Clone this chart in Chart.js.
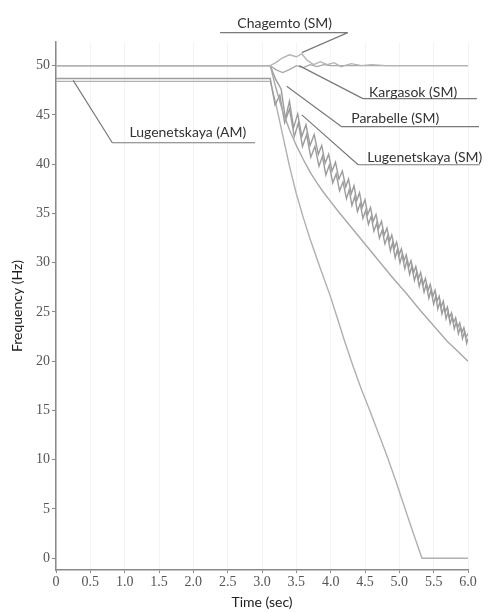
<!DOCTYPE html>
<html>
<head>
<meta charset="utf-8">
<script src="https://cdn.jsdelivr.net/npm/chart.js@4"></script>
<style>
  html, body { margin: 0; padding: 0; background: #fff; }
  #wrap { width: 493px; height: 613px; position: relative; }
</style>
</head>
<body>
<div id="wrap"><canvas id="freqChart"></canvas></div>
<script>
// tick labels
const xTickLabels = ['0', '0.5', '1.0', '1.5', '2.0', '2.5', '3.0', '3.5', '4.0', '4.5', '5.0', '5.5', '6.0'];
const yTickValues = [0, 5, 10, 15, 20, 25, 30, 35, 40, 45, 50];

// Chagemto (SM) - stays near 50 Hz, small bump after the fault
const chagemtoTime = [0, 3.12, 3.2, 3.3, 3.4, 3.5, 3.58, 3.65, 3.75, 3.85, 3.95, 4.05, 4.15, 4.3, 4.45, 4.6, 4.8, 5.0, 6.0];
const chagemtoFreq = [50, 50, 50.3, 50.8, 51.1, 50.9, 51.2, 50.6, 50.1, 50.4, 50.1, 50.3, 49.9, 50.2, 50.0, 50.1, 50.0, 50.0, 50.0];

// Kargasok (SM) - small dip then back to 50
const kargasokTime = [0, 3.12, 3.2, 3.3, 3.4, 3.5, 3.6, 3.7, 3.8, 3.9, 4.0, 6.0];
const kargasokFreq = [50, 50, 49.6, 49.3, 49.6, 50.0, 49.8, 50.1, 49.9, 50.1, 50.0, 50.0];

// Parabelle (SM) - swinging decay
const parabelleTime = [0, 3.12, 3.2, 3.28, 3.34, 3.4, 3.46, 3.52, 3.58, 3.64, 3.7, 3.76, 3.82, 3.87, 3.92, 3.97,
  4.02, 4.07, 4.12, 4.17, 4.22, 4.26, 4.3, 4.34, 4.38, 4.42, 4.46, 4.5, 4.54, 4.58, 4.62, 4.66, 4.7, 4.74, 4.78,
  4.82, 4.86, 4.89, 4.93, 4.96, 5.0, 5.03, 5.07, 5.1, 5.14, 5.17, 5.21, 5.24, 5.28, 5.31, 5.35, 5.38, 5.42, 5.45,
  5.49, 5.52, 5.55, 5.58, 5.61, 5.64, 5.67, 5.7, 5.73, 5.76, 5.79, 5.82, 5.85, 5.88, 5.91, 5.94, 5.97, 6.0];
const parabelleFreq = [50, 50, 48.6, 47.6, 44.6, 46.4, 43.7, 45.1, 42.8, 44.0, 41.9, 43.0, 41.0, 41.9, 40.1, 41.0,
  39.3, 40.2, 38.5, 39.3, 37.7, 38.5, 37.0, 37.8, 36.3, 37.1, 35.6, 36.4, 34.9, 35.6, 34.2, 34.9, 33.5, 34.2, 32.8,
  33.5, 32.2, 32.8, 31.5, 32.1, 30.8, 31.4, 30.2, 30.8, 29.6, 30.2, 29.0, 29.6, 28.4, 29.0, 27.8, 28.4, 27.2, 27.8,
  26.6, 27.2, 26.1, 26.6, 25.5, 26.1, 25.0, 25.5, 24.4, 24.9, 23.9, 24.4, 23.4, 23.9, 22.9, 23.4, 22.4, 22.8];

// Lugenetskaya (SM) - starts from the 48.7 Hz bus
const lugSmTime = [0, 3.12, 3.19, 3.26, 3.33, 3.4, 3.47, 3.53, 3.59, 3.65, 3.71, 3.77, 3.83, 3.88, 3.93, 3.98,
  4.03, 4.08, 4.13, 4.18, 4.23, 4.27, 4.31, 4.35, 4.39, 4.43, 4.47, 4.51, 4.55, 4.59, 4.63, 4.67, 4.71, 4.75, 4.79,
  4.83, 4.87, 4.9, 4.94, 4.97, 5.01, 5.04, 5.08, 5.11, 5.15, 5.18, 5.22, 5.25, 5.29, 5.32, 5.36, 5.39, 5.43, 5.46,
  5.5, 5.53, 5.56, 5.59, 5.62, 5.65, 5.68, 5.71, 5.74, 5.77, 5.8, 5.83, 5.86, 5.89, 5.92, 5.95, 5.98, 6.0];
const lugSmFreq = [48.7, 48.7, 46.0, 47.0, 44.2, 45.6, 42.8, 44.2, 41.8, 43.0, 40.7, 41.8, 39.8, 40.8, 38.9, 39.9,
  38.1, 39.0, 37.3, 38.2, 36.5, 37.4, 35.8, 36.7, 35.2, 36.0, 34.5, 35.3, 33.9, 34.7, 33.2, 34.0, 32.5, 33.3, 31.9,
  32.7, 31.2, 32.0, 30.5, 31.3, 30.0, 30.8, 29.4, 30.2, 28.8, 29.6, 28.2, 29.0, 27.6, 28.4, 27.0, 27.8, 26.4, 27.2,
  25.8, 26.6, 25.3, 26.0, 24.8, 25.5, 24.3, 25.0, 23.8, 24.5, 23.3, 24.0, 22.8, 23.5, 22.3, 23.0, 21.8, 22.3];

// unlabelled smooth curve ending near 20 Hz
const smoothTime = [0, 3.12, 3.2, 3.3, 3.4, 3.5, 3.6, 3.7, 3.8, 3.9, 4.0, 4.1, 4.3, 4.5, 4.7, 4.9, 5.1, 5.3, 5.5, 5.7, 5.85, 6.0];
const smoothFreq = [50, 50, 47.8, 45.4, 43.5, 41.9, 40.5, 39.2, 38.1, 37.1, 36.2, 35.3, 33.6, 31.9, 30.2, 28.5, 26.9, 25.2, 23.6, 22.0, 21.0, 20.0];

// Lugenetskaya (AM) - asynchronous motor runs down to standstill
const lugAmTime = [0, 3.12, 3.2, 3.3, 3.4, 3.5, 3.6, 3.7, 3.85, 4.0, 4.1, 4.2, 4.33, 4.45, 4.57, 4.7, 4.83, 4.95, 5.07, 5.2, 5.33, 6.0];
const lugAmFreq = [48.4, 48.4, 46.2, 43.0, 39.8, 37.0, 34.6, 32.4, 29.4, 26.5, 24.3, 22.1, 19.4, 17.1, 15.0, 12.6, 10.2, 7.8, 5.3, 2.6, 0, 0];

// callout labels: text, text centre (t, f), underline from/to t at f, pointer end (t, f)
const calloutText = ['Chagemto (SM)', 'Kargasok (SM)', 'Parabelle (SM)', 'Lugenetskaya (SM)', 'Lugenetskaya (AM)'];
const calloutTextPos = [[3.33, 54.3], [5.2, 47.3], [4.94, 44.6], [5.37, 40.7], [1.92, 43.2]];
const calloutLine = [[2.39, 4.25, 53.35], [4.47, 6.13, 46.65], [4.16, 6.16, 43.8], [4.4, 6.17, 39.94], [0.82, 2.9, 42.17]];
const calloutEnd = [[4.25, 3.58, 51.32], [4.47, 3.54, 50.0], [4.16, 3.36, 47.9], [4.4, 3.58, 45.0], [0.82, 0.25, 48.5]];

function pts(ts, fs) {
    return ts.map((t, i) => ({x: t, y: fs[i]}));
}

const lineGrey = '#a8a8a8';

function ds(label, ts, fs, color) {
    return {
        label: label,
        data: pts(ts, fs),
        borderColor: color || lineGrey,
        borderWidth: 1.4,
        pointRadius: 0,
        tension: 0,
        fill: false,
    };
}

const callouts = {
    id: 'callouts',
    afterDraw(chart) {
        const c = chart.ctx;
        const xs = chart.scales.x, ys = chart.scales.y;
        c.save();
        c.strokeStyle = '#7a7a7a';
        c.lineWidth = 1.2;
        c.fillStyle = '#333';
        c.font = '14px Lato';
        c.textAlign = 'center';
        c.textBaseline = 'middle';
        calloutText.forEach((txt, i) => {
            const ul = calloutLine[i];
            const end = calloutEnd[i];
            c.beginPath();
            c.moveTo(xs.getPixelForValue(ul[0]), ys.getPixelForValue(ul[2]));
            c.lineTo(xs.getPixelForValue(ul[1]), ys.getPixelForValue(ul[2]));
            c.moveTo(xs.getPixelForValue(end[0]), ys.getPixelForValue(ul[2]));
            c.lineTo(xs.getPixelForValue(end[1]), ys.getPixelForValue(end[2]));
            c.stroke();
            c.fillText(txt, xs.getPixelForValue(calloutTextPos[i][0]), ys.getPixelForValue(calloutTextPos[i][1]));
        });
        c.restore();
    }
};

const ctx = document.getElementById('freqChart').getContext('2d');

const chart = new Chart(ctx, {
    type: 'line',
    data: {
        datasets: [
            ds('Chagemto (SM)', chagemtoTime, chagemtoFreq, '#b4b4b4'),
            ds('Kargasok (SM)', kargasokTime, kargasokFreq),
            ds('', smoothTime, smoothFreq),
            ds('Parabelle (SM)', parabelleTime, parabelleFreq, '#9c9c9c'),
            ds('Lugenetskaya (SM)', lugSmTime, lugSmFreq, '#9c9c9c'),
            ds('Lugenetskaya (AM)', lugAmTime, lugAmFreq, '#b0b0b0'),
        ]
    },
    options: {
        animation: false,
        responsive: true,
        maintainAspectRatio: false,
        layout: { padding: { top: 42, right: 25, left: 0, bottom: 0 } },
        plugins: {
            legend: { display: false },
            tooltip: { enabled: false },
        },
        scales: {
            x: {
                type: 'linear',
                min: 0,
                max: 6,
                afterBuildTicks: s => { s.ticks = xTickLabels.map((l, i) => ({value: i * 0.5})); },
                afterFit: s => { s.height = 43; },
                ticks: {
                    callback: (v, i) => xTickLabels[i],
                    color: '#555',
                    font: { family: 'Liberation Serif', size: 14 },
                    padding: 1,
                    maxRotation: 0,
                    autoSkip: false,
                },
                grid: { color: 'rgba(0,0,0,0.045)', tickColor: '#8a8a8a', tickLength: 3 },
                border: { color: '#8a8a8a', width: 1.5 },
                title: {
                    display: true,
                    text: 'Time (sec)',
                    color: '#222',
                    font: { family: 'Lato', size: 14 },
                    padding: { top: 0, bottom: 2 },
                },
            },
            y: {
                min: -1.2,
                max: 52.4,
                afterBuildTicks: s => { s.ticks = yTickValues.map(v => ({value: v})); },
                afterFit: s => { s.width = 56; },
                ticks: {
                    color: '#555',
                    font: { family: 'Liberation Serif', size: 14 },
                    padding: 2,
                },
                grid: { drawOnChartArea: false, tickColor: '#8a8a8a', tickLength: 4 },
                border: { color: '#8a8a8a', width: 1.5 },
                title: {
                    display: true,
                    text: 'Frequency (Hz)',
                    color: '#222',
                    font: { family: 'Lato', size: 14 },
                    padding: { top: 9, bottom: 0 },
                },
            },
        },
    },
    plugins: [callouts],
});
</script>
</body>
</html>
